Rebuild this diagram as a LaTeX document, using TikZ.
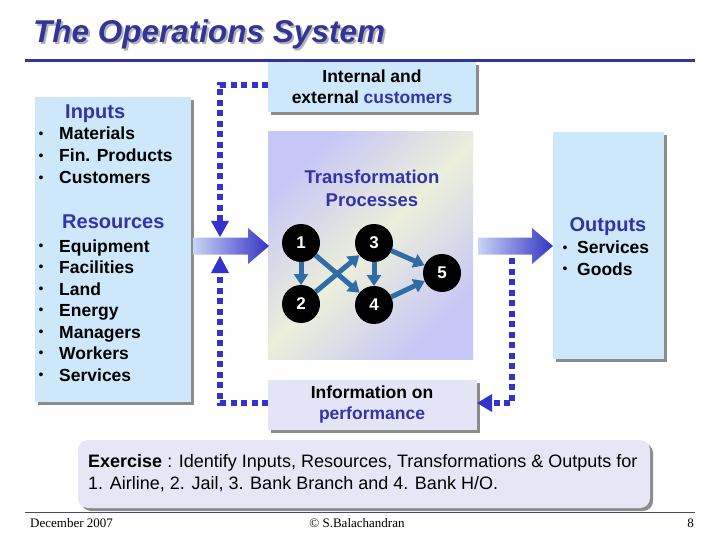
\documentclass[tikz,border=0pt]{standalone}
\usepackage{fontspec}
\setmainfont{Liberation Sans}
\newfontfamily\footfont{Liberation Serif}
\usetikzlibrary{arrows.meta,shadows,calc}
\definecolor{boxblue}{HTML}{CCE8FA}
\definecolor{headblue}{HTML}{3333AA}
\definecolor{titleblue}{HTML}{333399}
\definecolor{dotblue}{HTML}{3333CC}
\definecolor{netblue}{HTML}{2F6DA6}
\definecolor{lav}{HTML}{C6C6F7}
\definecolor{cream}{HTML}{ECEFDA}
\definecolor{infofill}{HTML}{E4E4F7}
\definecolor{exfill}{HTML}{E6E6F6}
\definecolor{arrowlight}{HTML}{C8D4F6}
\definecolor{arrowdark}{HTML}{3434C2}
\definecolor{footline}{HTML}{4A4A6E}
\begin{document}
\begin{tikzpicture}[x=1pt,y=-1pt,
  shbox/.style={rectangle, draw=none, inner sep=0pt, outer sep=0pt,
    drop shadow={shadow xshift=3pt, shadow yshift=-3pt, fill=gray!90, opacity=1}},
  item/.style={font=\fontsize{17.5}{20}\selectfont\bfseries, anchor=base west, inner sep=0pt},
  head/.style={font=\fontsize{20}{22}\selectfont\bfseries, text=headblue, anchor=base west, inner sep=0pt},
  bul/.style={font=\fontsize{14}{14}\selectfont, anchor=base, inner sep=0pt},
  ctext/.style={font=\fontsize{17.5}{21}\selectfont\bfseries, align=center, inner sep=0pt},
  numc/.style={circle, fill=black, minimum size=38pt, inner sep=0pt, outer sep=0pt,
    text=white, font=\fontsize{17}{17}\selectfont\bfseries},
  net/.style={draw=netblue, line width=5pt, -{Triangle[length=11pt,width=14pt]}},
  dotline/.style={draw=dotblue, line width=6pt, dash pattern=on 6pt off 4.5pt},
  bigarrow/.style={left color=arrowlight, right color=arrowdark},
  foot/.style={font=\footfont\fontsize{13}{13}\selectfont, inner sep=0pt, anchor=base}
]
\useasboundingbox (0,0) rectangle (720,540);
\fill[white] (0,0) rectangle (720,540);

% title
\node[anchor=base west, inner sep=0pt, text=gray!60, font=\fontsize{31.5}{32}\selectfont\bfseries\itshape] (titlesh) at (35,45) {The Operations System};
\node[anchor=base west, inner sep=0pt, text=titleblue, font=\fontsize{31.5}{32}\selectfont\bfseries\itshape] (title) at (33,43) {The Operations System};
\coordinate (tl1) at (25,61);
\coordinate (tl2) at (695,61);
\draw[titleblue, line width=3pt] (tl1) -- (tl2);

% boxes
\node[shbox, fill=boxblue, minimum width=156pt, minimum height=305pt] (inbox) at (113,249.5) {};
\node[shbox, fill=boxblue, minimum width=208pt, minimum height=50pt] (cust) at (372,87) {};
\node[shbox, fill=boxblue, minimum width=111pt, minimum height=227pt] (outbox) at (608.5,245.5) {};
\node[shbox, fill=infofill, minimum width=209pt, minimum height=50pt] (info) at (372.5,405) {};
\node[rectangle, draw=none, inner sep=0pt, outer sep=0pt, minimum width=205pt, minimum height=227pt,
  top color=lav, bottom color=lav, middle color=cream, shading angle=45] (tbox) at (370.5,245.5) {};
\node[shbox, fill=exfill, rounded corners=10pt, minimum width=572pt, minimum height=68pt] (exbox) at (364,474) {};

% inputs text
\node[head] (hin) at (65,119) {Inputs};
\foreach \t/\y [count=\i] in {Materials/140, Fin. Products/162, Customers/184,
   Equipment/252, Facilities/273, Land/295, Energy/316, Managers/338, Workers/359, Services/381}{
  \node[bul] (b\i) at (41,\y-1.5) {•};
  \node[item] (it\i) at (59,\y) {\t};
}
\node[head] (hres) at (62,229) {Resources};

% customers / info text
\node[ctext] (custt) at (cust.center) {Internal and\\external \textcolor{headblue}{customers}};
\node[ctext] (infot) at (372,404) {Information on\\\textcolor{headblue}{performance}};

% transformation
\node[ctext, font=\fontsize{18.5}{23}\selectfont\bfseries, text=headblue] (ttxt) at (372,188) {Transformation\\Processes};
\node[numc] (n1) at (301,243) {1};
\node[numc] (n3) at (374,243) {3};
\node[numc] (n2) at (301,304) {2};
\node[numc] (n4) at (374,305) {4};
\node[numc] (n5) at (442,273) {5};
\draw[net] (n1) -- (n2);
\draw[net] (n1) -- (n4);
\draw[net] (n2) -- (n3);
\draw[net] (n3) -- (n4);
\draw[net] (n3) -- (n5);
\draw[net] (n4) -- (n5);

% outputs text
\node[head, anchor=base] (hout) at (608,232) {Outputs};
\node[bul] (ob1) at (565,252.5) {•};
\node[item] (ot1) at (577,254) {Services};
\node[bul] (ob2) at (565,273.5) {•};
\node[item] (ot2) at (577,275) {Goods};

% big arrows
\shade[bigarrow] (193,237.5) -- (248,237.5) -- (248,228) -- (269,246) -- (248,264) -- (248,254.5) -- (193,254.5) -- cycle;
\shade[bigarrow] (478,237.5) -- (532,237.5) -- (532,228) -- (553,246) -- (532,264) -- (532,254.5) -- (478,254.5) -- cycle;

% feedback dotted lines
\coordinate (c1) at (220,85);
\coordinate (c1e) at (220,237);
\coordinate (c2) at (220,403);
\coordinate (c2e) at (220,256);
\coordinate (c3s) at (512,258);
\coordinate (c3) at (512,403);
\draw[dotline] (cust.west |- c1) -- (c1) -- ([yshift=14pt]c1e);
\fill[dotblue] (c1e) -- ++(-9,-16) -- ++(18,0) -- cycle;
\draw[dotline] (info.west |- c2) -- (c2) -- ([yshift=-14pt]c2e);
\fill[dotblue] (c2e) -- ++(-9,17) -- ++(18,0) -- cycle;
\draw[dotline] (c3s) -- (c3) -- ([xshift=14pt]info.east |- c3);
\fill[dotblue] (info.east |- c3) -- ++(15,-9) -- ++(0,18) -- cycle;

% exercise text
\node[anchor=base west, inner sep=0pt, font=\fontsize{18}{22}\selectfont] (ex1) at (88,467) {\textbf{Exercise} : Identify Inputs, Resources, Transformations \& Outputs for};
\node[anchor=base west, inner sep=0pt, font=\fontsize{18}{22}\selectfont] (ex2) at (88,489) {1. Airline, 2. Jail, 3. Bank Branch and 4. Bank H/O.};

% footer
\coordinate (f1) at (25,512);
\coordinate (f2) at (695,512);
\draw[footline, line width=1pt] (f1) -- (f2);
\node[foot, anchor=base west] (fd) at (30,527) {December 2007};
\node[foot] (fc) at (357,527) {© S.Balachandran};
\node[foot, anchor=base east] (fp) at (694,527) {8};
\end{tikzpicture}
\end{document}
